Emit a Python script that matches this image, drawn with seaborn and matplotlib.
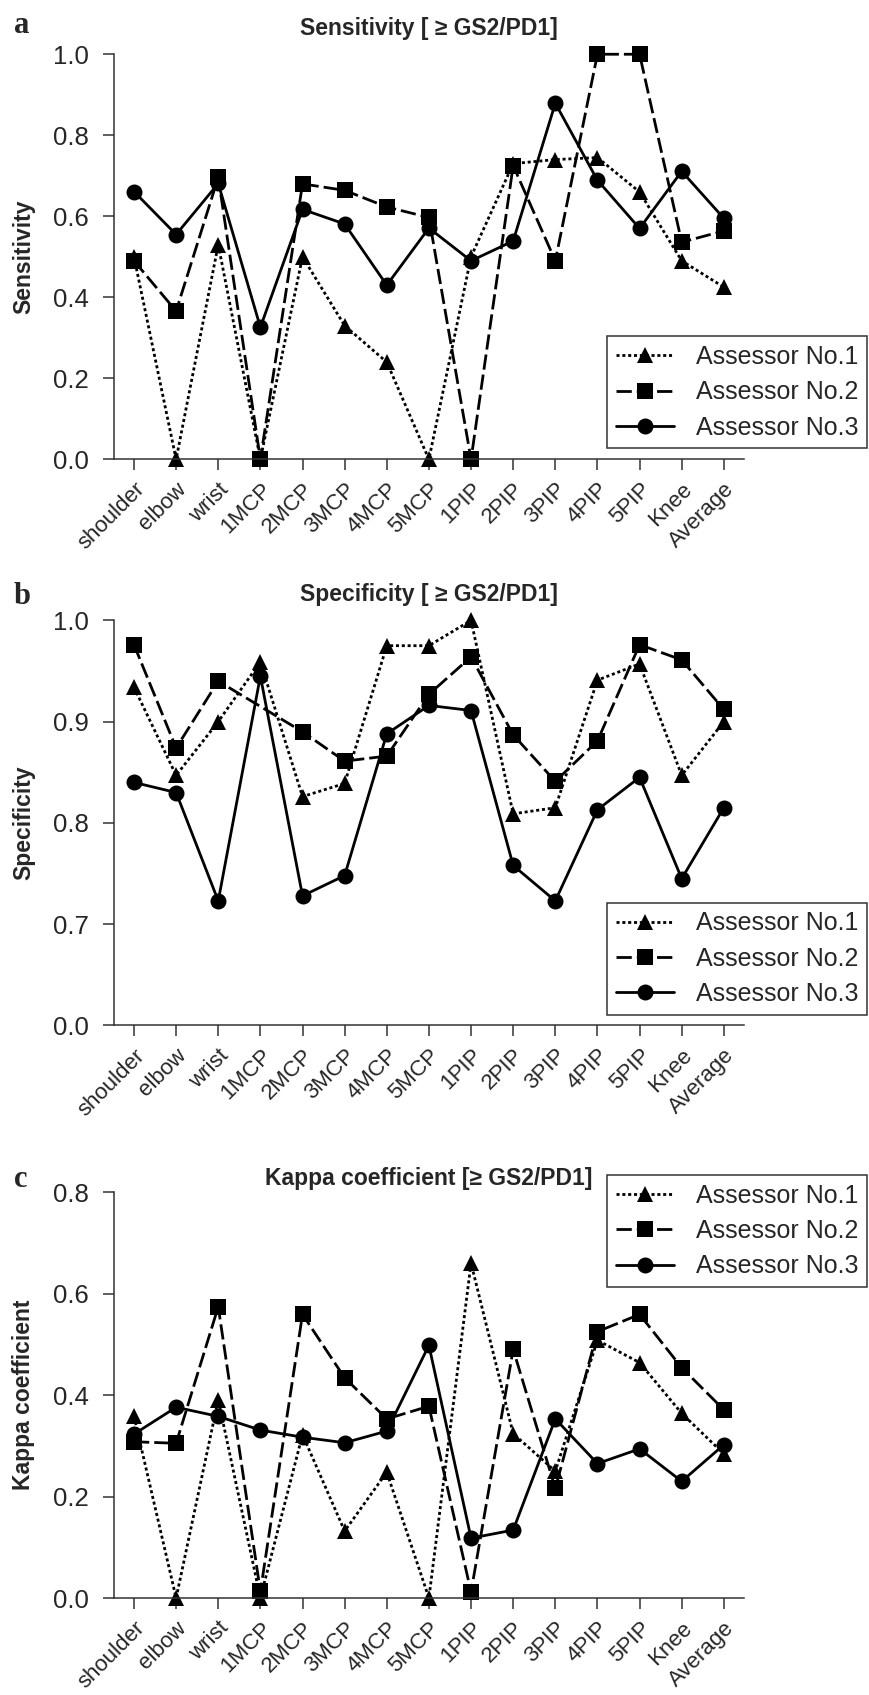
import numpy as np
import pandas as pd
import matplotlib
matplotlib.use("Agg")
import matplotlib.pyplot as plt
import seaborn as sns

# joints on the x axis
joints = ['shoulder', 'elbow', 'wrist', '1MCP', '2MCP', '3MCP', '4MCP', '5MCP',
          '1PIP', '2PIP', '3PIP', '4PIP', '5PIP', 'Knee', 'Average']
assessors = ['Assessor No.1', 'Assessor No.2', 'Assessor No.3']

# a: sensitivity
sens_a1 = [0.50, 0.0, 0.53, 0.0, 0.50, 0.33, 0.24, 0.0, 0.50, 0.73, 0.74, 0.745, 0.66, 0.49, 0.425]
sens_a2 = [0.49, 0.366, 0.696, 0.0, 0.68, 0.664, 0.623, 0.597, 0.0, 0.725, 0.49, 1.0, 1.0, 0.536, 0.564]
sens_a3 = [0.661, 0.555, 0.681, 0.326, 0.617, 0.581, 0.43, 0.571, 0.49, 0.539, 0.879, 0.689, 0.57, 0.711, 0.595]

# b: specificity (assessor 2 has no point at 1MCP)
spec_a1 = [0.934, 0.847, 0.90, 0.959, 0.826, 0.839, 0.975, 0.975, 1.0, 0.809, 0.815, 0.941, 0.957, 0.847, 0.90]
spec_a2 = [0.976, 0.874, 0.94, np.nan, 0.89, 0.861, 0.866, 0.927, 0.964, 0.887, 0.841, 0.881, 0.976, 0.961, 0.912]
spec_a3 = [0.84, 0.83, 0.723, 0.945, 0.728, 0.748, 0.888, 0.916, 0.911, 0.758, 0.723, 0.813, 0.845, 0.745, 0.815]

# c: kappa
kappa_a1 = [0.358, 0.0, 0.391, 0.0, 0.322, 0.132, 0.248, 0.0, 0.66, 0.324, 0.25, 0.508, 0.464, 0.364, 0.284]
kappa_a2 = [0.308, 0.305, 0.574, 0.013, 0.559, 0.434, 0.353, 0.378, 0.012, 0.49, 0.216, 0.525, 0.559, 0.454, 0.371]
kappa_a3 = [0.323, 0.376, 0.358, 0.331, 0.317, 0.306, 0.329, 0.498, 0.118, 0.134, 0.353, 0.265, 0.294, 0.23, 0.302]

sens_ticks = [0.0, 0.2, 0.4, 0.6, 0.8, 1.0]
spec_ticks = [0.6, 0.7, 0.8, 0.9, 1.0]
spec_ticklabels = ['0.0', '0.7', '0.8', '0.9', '1.0']   # broken axis: bottom tick reads 0.0
kappa_ticks = [0.0, 0.2, 0.4, 0.6, 0.8]


def long_df(s1, s2, s3):
    rows = []
    for name, vals in zip(assessors, [s1, s2, s3]):
        for j, v in zip(joints, vals):
            rows.append({'joint': j, 'value': v, 'assessor': name})
    return pd.DataFrame(rows)


sns.set_style('ticks')
plt.rcParams['font.family'] = ['Liberation Sans', 'DejaVu Sans']
plt.rcParams['axes.linewidth'] = 1.1
plt.rcParams['axes.edgecolor'] = '#333333'

fig = plt.figure(figsize=(8.7, 16.95), dpi=100)

panels = [
    ('a', 'Sensitivity [ \u2265 GS2/PD1]', 'Sensitivity', long_df(sens_a1, sens_a2, sens_a3),
     [0.131, 0.729, 0.724, 0.239], (0, 1.0), sens_ticks, None, 'lower right', (1.196, 0.027), 14),
    ('b', 'Specificity [ \u2265 GS2/PD1]', 'Specificity', long_df(spec_a1, spec_a2, spec_a3),
     [0.131, 0.395, 0.724, 0.239], (0.6, 1.0), spec_ticks, spec_ticklabels, 'lower right', (1.196, 0.027), 14),
    ('c', 'Kappa coefficient [\u2265 GS2/PD1]', 'Kappa coefficient', long_df(kappa_a1, kappa_a2, kappa_a3),
     [0.131, 0.0572, 0.724, 0.2395], (0, 0.8), kappa_ticks, None, 'upper right', (1.196, 1.042), 5),
]
label_y = [0.985, 0.648, 0.304]

markers = {'Assessor No.1': '^', 'Assessor No.2': 's', 'Assessor No.3': 'o'}
dashes = {'Assessor No.1': (1.1, 1.0), 'Assessor No.2': (5.5, 1.8), 'Assessor No.3': ''}
palette = {a: 'black' for a in assessors}

for (tag, title, ylab, df, rect, ylim, yt, ytl, loc, anchor, tpad), ly in zip(panels, label_y):
    ax = fig.add_axes(rect)
    sns.lineplot(data=df, x='joint', y='value', hue='assessor', style='assessor',
                 markers=markers, dashes=dashes, palette=palette,
                 markersize=11.5, linewidth=2.0, markeredgewidth=0,
                 ax=ax, clip_on=False, sort=False)
    ax.set_xlim(-0.475, 14.475)
    ax.set_ylim(*ylim)
    ax.set_yticks(yt)
    if ytl is not None:
        ax.set_yticklabels(ytl)
    else:
        ax.set_yticklabels([f'{t:.1f}' for t in yt])
    ax.set_xticks(range(len(joints)))
    ax.set_xticklabels(joints, rotation=45, ha='right', rotation_mode='anchor')
    ax.tick_params(axis='both', length=8, width=1.1, color='#333333', direction='out')
    ax.tick_params(axis='y', labelsize=18.5, pad=10)
    ax.tick_params(axis='x', labelsize=16, pad=6)
    sns.despine(ax=ax)
    ax.set_xlabel('')
    ax.set_ylabel(ylab, fontsize=16.5, fontweight='bold')
    ax.yaxis.set_label_coords(-0.125, 0.5)
    ax.set_title(title, fontsize=16.5, fontweight='bold', pad=tpad)

    handles, labels = ax.get_legend_handles_labels()
    leg = ax.legend(handles, labels, loc=loc, bbox_to_anchor=anchor, fontsize=18,
                    frameon=True, fancybox=False, edgecolor='#333333', framealpha=1,
                    handlelength=2.3, borderpad=0.35, labelspacing=0.45, handletextpad=0.9,
                    borderaxespad=0)
    leg.get_frame().set_linewidth(1.1)

    fig.text(0.016, ly, tag, fontsize=22, fontweight='bold', va='center',
             family=['Liberation Serif', 'DejaVu Serif'])

fig.savefig('out.png', dpi=100)
